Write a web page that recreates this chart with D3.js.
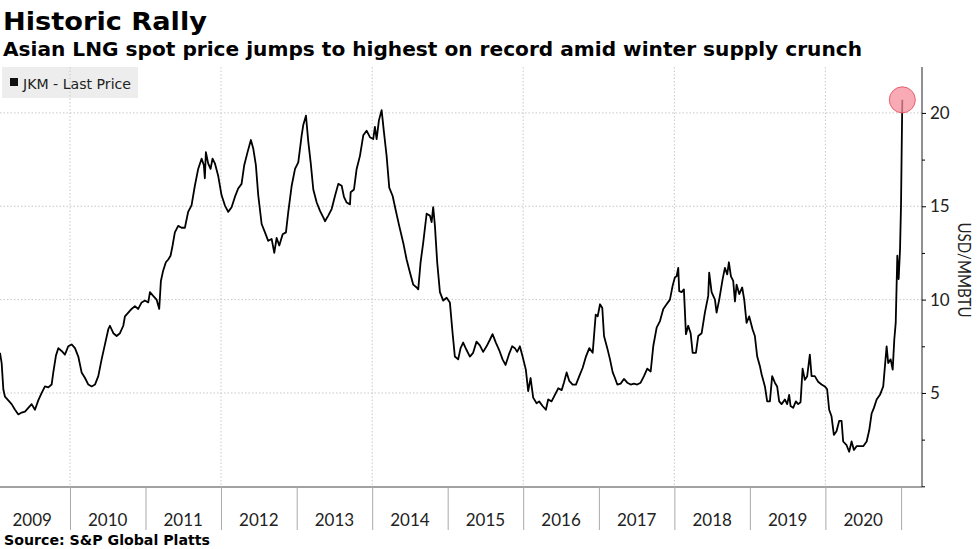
<!DOCTYPE html>
<html lang="en">
<head>
    <meta charset="UTF-8">
    <title>Historic Rally</title>
    <style>
        body { margin: 0; background: #fff; }
        svg { display: block; }
    </style>
</head>
<body>
    <div id="chart"></div>
    <script src="https://cdn.jsdelivr.net/npm/d3@7"></script>
    <script>
        // JKM spot price (fractional year, USD/MMBTU)
        const years = [
            2009.073, 2009.095, 2009.117, 2009.139, 2009.183, 2009.227, 2009.272, 2009.316, 2009.360, 2009.404,
            2009.448, 2009.492, 2009.536, 2009.580, 2009.625, 2009.669, 2009.713, 2009.757, 2009.779, 2009.814,
            2009.845, 2009.889, 2009.933, 2009.977, 2010.022, 2010.066, 2010.110, 2010.154, 2010.199, 2010.243,
            2010.287, 2010.331, 2010.375, 2010.419, 2010.463, 2010.507, 2010.529, 2010.574, 2010.618, 2010.662,
            2010.706, 2010.728, 2010.772, 2010.816, 2010.860, 2010.904, 2010.949, 2010.993, 2011.037, 2011.059,
            2011.102, 2011.147, 2011.182, 2011.204, 2011.234, 2011.270, 2011.301, 2011.332, 2011.359, 2011.389,
            2011.433, 2011.478, 2011.522, 2011.565, 2011.610, 2011.654, 2011.698, 2011.743, 2011.773, 2011.786,
            2011.800, 2011.830, 2011.862, 2011.888, 2011.919, 2011.962, 2012.007, 2012.051, 2012.095, 2012.140,
            2012.184, 2012.227, 2012.272, 2012.307, 2012.351, 2012.395, 2012.426, 2012.461, 2012.492, 2012.537,
            2012.581, 2012.624, 2012.669, 2012.704, 2012.735, 2012.770, 2012.815, 2012.858, 2012.889, 2012.934,
            2012.978, 2013.021, 2013.066, 2013.087, 2013.123, 2013.154, 2013.185, 2013.220, 2013.265, 2013.309,
            2013.352, 2013.375, 2013.418, 2013.463, 2013.507, 2013.551, 2013.596, 2013.626, 2013.662, 2013.706,
            2013.715, 2013.759, 2013.794, 2013.838, 2013.882, 2013.926, 2013.970, 2014.014, 2014.036, 2014.059,
            2014.089, 2014.125, 2014.155, 2014.191, 2014.226, 2014.271, 2014.314, 2014.358, 2014.411, 2014.456,
            2014.500, 2014.544, 2014.589, 2014.610, 2014.641, 2014.676, 2014.721, 2014.765, 2014.787, 2014.808,
            2014.831, 2014.861, 2014.897, 2014.941, 2014.986, 2015.029, 2015.065, 2015.095, 2015.139, 2015.171,
            2015.205, 2015.250, 2015.294, 2015.337, 2015.382, 2015.426, 2015.470, 2015.515, 2015.559, 2015.594,
            2015.638, 2015.682, 2015.727, 2015.766, 2015.810, 2015.854, 2015.890, 2015.920, 2015.956, 2015.992,
            2016.035, 2016.066, 2016.098, 2016.132, 2016.177, 2016.211, 2016.256, 2016.300, 2016.330, 2016.375,
            2016.419, 2016.463, 2016.508, 2016.538, 2016.574, 2016.608, 2016.653, 2016.697, 2016.741, 2016.786,
            2016.829, 2016.873, 2016.918, 2016.958, 2016.984, 2017.015, 2017.045, 2017.068, 2017.111, 2017.147,
            2017.183, 2017.213, 2017.244, 2017.288, 2017.332, 2017.376, 2017.421, 2017.465, 2017.508, 2017.553,
            2017.597, 2017.641, 2017.686, 2017.720, 2017.765, 2017.809, 2017.853, 2017.897, 2017.941, 2017.977,
            2018.007, 2018.030, 2018.051, 2018.064, 2018.096, 2018.126, 2018.153, 2018.183, 2018.215, 2018.242,
            2018.285, 2018.316, 2018.361, 2018.404, 2018.448, 2018.461, 2018.493, 2018.537, 2018.559, 2018.594,
            2018.639, 2018.669, 2018.700, 2018.722, 2018.749, 2018.779, 2018.802, 2018.824, 2018.859, 2018.898,
            2018.925, 2018.956, 2018.991, 2019.036, 2019.066, 2019.097, 2019.132, 2019.155, 2019.199, 2019.229,
            2019.265, 2019.295, 2019.331, 2019.361, 2019.388, 2019.420, 2019.463, 2019.494, 2019.520, 2019.539,
            2019.573, 2019.609, 2019.640, 2019.671, 2019.698, 2019.728, 2019.759, 2019.794, 2019.817, 2019.860,
            2019.904, 2019.949, 2019.993, 2020.023, 2020.050, 2020.081, 2020.112, 2020.147, 2020.182, 2020.214,
            2020.235, 2020.280, 2020.314, 2020.346, 2020.377, 2020.412, 2020.456, 2020.500, 2020.545, 2020.579,
            2020.611, 2020.641, 2020.677, 2020.721, 2020.764, 2020.787, 2020.809, 2020.830, 2020.862, 2020.889,
            2020.910, 2020.929, 2020.950, 2020.968, 2020.986, 2020.999, 2021.008, 2021.016
        ];
        const prices = [
            7.15, 6.6, 5.2, 4.8, 4.6, 4.4, 4.1, 3.85, 3.95, 4.0,
            4.2, 4.4, 4.1, 4.6, 5.0, 5.35, 5.3, 5.45, 6.1, 7.0,
            7.4, 7.25, 7.05, 7.5, 7.6, 7.4, 6.95, 6.1, 5.8, 5.45,
            5.35, 5.45, 5.9, 6.8, 7.6, 8.4, 8.6, 8.2, 8.05, 8.2,
            8.6, 9.1, 9.3, 9.5, 9.65, 9.5, 9.85, 9.95, 9.85, 10.4,
            10.2, 10.0, 9.5, 11.0, 11.55, 12.0, 12.15, 12.35, 12.9, 13.6,
            13.95, 13.85, 13.85, 14.7, 15.05, 16.1, 17.0, 17.55, 17.2, 16.5,
            17.9, 17.3, 17.0, 17.55, 17.3, 16.65, 15.6, 15.05, 14.7, 14.95,
            15.5, 15.95, 16.2, 17.2, 17.9, 18.55, 18.1, 17.2, 15.6, 14.05,
            13.6, 13.15, 13.25, 12.5, 13.3, 12.9, 13.5, 13.6, 14.7, 16.1,
            17.0, 17.35, 18.8, 19.35, 19.85, 18.45, 17.35, 15.9, 15.2, 14.75,
            14.4, 14.2, 14.5, 14.85, 15.55, 16.2, 16.1, 15.5, 15.2, 15.1,
            15.75, 15.9, 17.0, 17.7, 18.8, 19.05, 18.7, 18.6, 19.25, 18.6,
            19.6, 20.15, 19.0, 17.7, 16.0, 15.55, 14.75, 13.95, 13.05, 12.15,
            11.45, 10.8, 10.65, 10.55, 12.0, 13.05, 14.6, 14.5, 14.15, 14.95,
            13.95, 12.0, 10.4, 9.95, 10.1, 9.85, 8.2, 6.95, 6.8, 7.4,
            7.7, 7.3, 6.95, 7.15, 7.75, 7.55, 7.2, 7.5, 7.85, 8.15,
            7.7, 7.3, 6.8, 6.5, 7.05, 7.5, 7.4, 7.2, 7.5, 6.95,
            6.25, 5.1, 5.8, 4.75, 4.45, 4.55, 4.3, 4.1, 4.65, 4.55,
            4.9, 5.25, 5.15, 5.55, 6.1, 5.65, 5.45, 5.45, 5.9, 6.35,
            6.95, 7.4, 7.15, 9.2, 9.1, 9.75, 9.55, 8.05, 7.4, 6.8,
            6.1, 5.8, 5.45, 5.5, 5.75, 5.55, 5.45, 5.5, 5.45, 5.55,
            5.9, 6.3, 6.15, 7.5, 8.5, 8.85, 9.5, 9.75, 10.0, 10.75,
            11.2, 11.25, 11.7, 10.45, 10.4, 10.55, 8.15, 8.6, 8.2, 7.15,
            7.15, 8.05, 8.2, 9.3, 10.2, 11.45, 10.4, 10.0, 9.3, 10.0,
            11.1, 11.7, 11.35, 12.0, 11.25, 11.0, 9.9, 10.8, 10.3, 10.65,
            10.0, 8.75, 9.1, 8.4, 8.05, 6.95, 6.45, 6.0, 5.35, 4.55,
            4.55, 5.9, 5.55, 5.35, 4.55, 4.4, 4.65, 4.4, 4.9, 4.3,
            4.2, 4.55, 4.4, 4.5, 6.3, 5.7, 5.9, 7.05, 5.9, 5.9,
            5.6, 5.45, 5.35, 5.2, 4.1, 3.75, 2.75, 2.95, 3.5, 3.5,
            2.4, 2.2, 1.85, 2.4, 1.95, 2.15, 2.15, 2.15, 2.4, 3.0,
            3.9, 4.2, 4.65, 4.9, 5.35, 6.45, 7.5, 6.6, 6.8, 6.25,
            7.85, 8.75, 12.35, 11.1, 12.7, 15.05, 18.1, 20.7
        ];
        const yearLabels = [2009, 2010, 2011, 2012, 2013, 2014, 2015, 2016, 2017, 2018, 2019, 2020];
        const majorTicks = [5, 10, 15, 20];
        const minorTicks = [0, 2.5, 7.5, 12.5, 17.5];

        function toDate(fy) {
            const y = Math.floor(fy);
            const start = Date.UTC(y, 0, 1);
            const end = Date.UTC(y + 1, 0, 1);
            return new Date(start + (fy - y) * (end - start));
        }

        const data = years.map((t, i) => ({ date: toDate(t), value: prices[i] }));

        const width = 977;
        const height = 549;
        const plotLeft = 0;
        const plotRight = 922;
        const plotTop = 67;
        const plotBottom = 487;

        const x = d3.scaleUtc()
            .domain([toDate(2009.073), toDate(2021.016)])
            .range([plotLeft, 902.3]);

        const y = d3.scaleLinear()
            .domain([0, 22.46])
            .range([486.3, plotTop]);

        const svg = d3.select("#chart").append("svg")
            .attr("width", width)
            .attr("height", height)
            .attr("viewBox", [0, 0, width, height])
            .style("font-family", "'DejaVu Sans', Verdana, sans-serif");

        // titles
        svg.append("text")
            .attr("x", 3).attr("y", 30)
            .attr("font-size", 25).attr("font-weight", "bold")
            .attr("textLength", 204).attr("lengthAdjust", "spacingAndGlyphs")
            .text("Historic Rally");

        svg.append("text")
            .attr("x", 3).attr("y", 56)
            .attr("font-size", 19).attr("font-weight", "bold")
            .attr("textLength", 859).attr("lengthAdjust", "spacingAndGlyphs")
            .text("Asian LNG spot price jumps to highest on record amid winter supply crunch");

        // legend background
        svg.append("rect")
            .attr("x", 2).attr("y", plotTop)
            .attr("width", 136).attr("height", 31)
            .attr("fill", "#ededed");

        // gridlines
        svg.append("g")
            .attr("stroke", "#c8c8c8")
            .attr("stroke-dasharray", "1.5,2")
            .selectAll("line")
            .data(majorTicks)
            .join("line")
            .attr("x1", plotLeft).attr("x2", plotRight)
            .attr("y1", d => y(d)).attr("y2", d => y(d));

        const gridYears = [2010, 2012, 2014, 2016, 2018, 2020];
        svg.append("g")
            .attr("stroke", "#c8c8c8")
            .attr("stroke-dasharray", "1.5,2")
            .selectAll("line")
            .data(gridYears)
            .join("line")
            .attr("x1", d => x(toDate(d))).attr("x2", d => x(toDate(d)))
            .attr("y1", plotTop).attr("y2", plotBottom);

        // legend content
        svg.append("rect")
            .attr("x", 10).attr("y", 78)
            .attr("width", 8).attr("height", 8)
            .attr("fill", "#111");
        svg.append("text")
            .attr("x", 23).attr("y", 89)
            .attr("font-size", 14)
            .attr("fill", "#222")
            .attr("textLength", 108).attr("lengthAdjust", "spacingAndGlyphs")
            .text("JKM - Last Price");

        // bottom plot border
        svg.append("line")
            .attr("x1", plotLeft).attr("x2", plotRight)
            .attr("y1", plotBottom).attr("y2", plotBottom)
            .attr("stroke", "#444");

        // year separators + labels
        svg.append("g")
            .attr("transform", `translate(0,${plotBottom})`)
            .call(d3.axisBottom(x).ticks(d3.utcYear.every(1)).tickSize(43).tickFormat(""))
            .call(g => g.select(".domain").remove())
            .call(g => g.selectAll(".tick line").attr("stroke", "#aaa"));

        svg.append("g")
            .selectAll("text")
            .data(yearLabels)
            .join("text")
            .attr("x", d => x(toDate(d + 0.5)))
            .attr("y", 526)
            .attr("text-anchor", "middle")
            .attr("font-family", "Lato, sans-serif")
            .attr("font-size", 17)
            .attr("fill", "#222")
            .text(d => d);

        // right axis
        svg.append("g")
            .attr("transform", `translate(${plotRight},0)`)
            .call(d3.axisRight(y).tickValues(majorTicks).tickSize(4).tickPadding(4))
            .call(g => g.select(".domain").attr("d", `M0,${plotTop}V${plotBottom}`).attr("stroke", "#222"))
            .call(g => g.selectAll(".tick text")
                .attr("font-family", "Lato, sans-serif")
                .attr("font-size", 17)
                .attr("fill", "#222"));

        svg.append("g")
            .attr("transform", `translate(${plotRight},0)`)
            .call(d3.axisRight(y).tickValues(minorTicks).tickSize(3).tickFormat(""))
            .call(g => g.select(".domain").remove());

        svg.append("text")
            .attr("transform", `translate(958,270) rotate(90)`)
            .attr("text-anchor", "middle")
            .attr("font-family", "Lato, sans-serif")
            .attr("font-size", 17)
            .attr("fill", "#222")
            .attr("textLength", 95).attr("lengthAdjust", "spacingAndGlyphs")
            .text("USD/MMBTU");

        // price line
        const line = d3.line()
            .x(d => x(d.date))
            .y(d => y(d.value));

        svg.append("path")
            .datum(data)
            .attr("fill", "none")
            .attr("stroke", "#000")
            .attr("stroke-width", 1.8)
            .attr("stroke-linejoin", "round")
            .attr("d", line);

        // highlight latest point
        const last = data[data.length - 1];
        svg.append("circle")
            .attr("cx", x(last.date))
            .attr("cy", y(last.value))
            .attr("r", 13)
            .attr("fill", "#f58f9c")
            .attr("fill-opacity", 0.75)
            .attr("stroke", "#e5606f")
            .attr("stroke-width", 1);

        // source
        svg.append("text")
            .attr("x", 4).attr("y", 545)
            .attr("font-size", 14).attr("font-weight", "bold")
            .attr("textLength", 206).attr("lengthAdjust", "spacingAndGlyphs")
            .text("Source: S&P Global Platts");
    </script>
</body>
</html>
